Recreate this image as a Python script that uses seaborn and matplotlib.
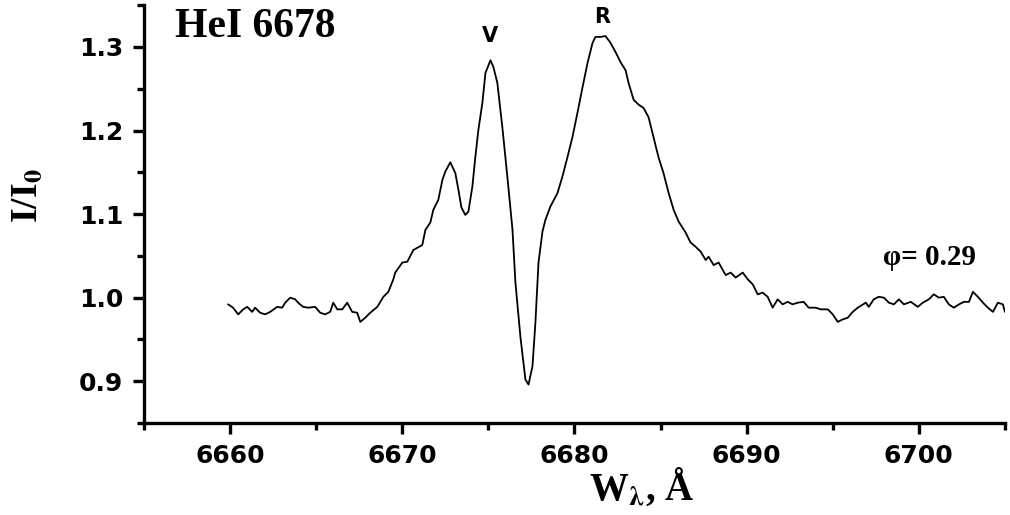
import numpy as np
import pandas as pd
import seaborn as sns
import matplotlib.pyplot as plt

# HeI 6678 profile
wavelength = [
    6659.88, 6660.17, 6660.47, 6660.76, 6660.99, 6661.28, 6661.45, 6661.74, 6662.03, 6662.33,
    6662.73, 6663.02, 6663.20, 6663.49, 6663.78, 6663.95, 6664.24, 6664.53, 6664.94, 6665.23,
    6665.52, 6665.81, 6665.99, 6666.22, 6666.51, 6666.80, 6667.09, 6667.38, 6667.56, 6667.85,
    6668.14, 6668.55, 6668.90, 6669.19, 6669.48, 6669.59, 6670.00, 6670.29, 6670.64, 6671.16,
    6671.34, 6671.63, 6671.80, 6672.09, 6672.33, 6672.50, 6672.79, 6673.08, 6673.26, 6673.43,
    6673.66, 6673.84, 6674.07, 6674.24, 6674.42, 6674.65, 6674.83, 6675.12, 6675.29, 6675.52,
    6675.81, 6676.10, 6676.40, 6676.57, 6676.86, 6677.15, 6677.33, 6677.56, 6677.73, 6677.91,
    6678.14, 6678.31, 6678.60, 6679.01, 6679.30, 6679.59, 6679.88, 6680.17, 6680.47, 6680.76,
    6681.05, 6681.22, 6681.51, 6681.80, 6682.09, 6682.38, 6682.67, 6682.97, 6683.14, 6683.43,
    6683.72, 6684.01, 6684.30, 6684.59, 6684.88, 6685.17, 6685.47, 6685.76, 6686.05, 6686.45,
    6686.74, 6687.03, 6687.33, 6687.62, 6687.79, 6688.08, 6688.37, 6688.78, 6689.07, 6689.36,
    6689.77, 6690.06, 6690.35, 6690.64, 6690.93, 6691.22, 6691.51, 6691.80, 6692.09, 6692.38,
    6692.67, 6692.97, 6693.31, 6693.60, 6694.01, 6694.30, 6694.71, 6695.00, 6695.29, 6695.58,
    6695.87, 6696.16, 6696.45, 6696.92, 6697.09, 6697.38, 6697.67, 6697.97, 6698.26, 6698.55,
    6698.84, 6699.13, 6699.53, 6699.94, 6700.23, 6700.58, 6700.87, 6701.16, 6701.45, 6701.74,
    6702.03, 6702.33, 6702.62, 6702.91, 6703.14, 6703.43, 6703.72, 6704.01, 6704.30, 6704.59,
    6704.88, 6705.00,
]
intensity = [
    0.992, 0.988, 0.980, 0.986, 0.989, 0.983, 0.988, 0.982, 0.980, 0.983,
    0.989, 0.988, 0.994, 1.000, 0.998, 0.994, 0.989, 0.988, 0.989, 0.982,
    0.980, 0.983, 0.994, 0.986, 0.986, 0.994, 0.983, 0.982, 0.971, 0.976,
    0.982, 0.989, 1.001, 1.007, 1.022, 1.030, 1.042, 1.043, 1.057, 1.063,
    1.081, 1.090, 1.105, 1.117, 1.141, 1.151, 1.162, 1.149, 1.129, 1.108,
    1.099, 1.103, 1.133, 1.168, 1.201, 1.233, 1.269, 1.284, 1.276, 1.257,
    1.204, 1.145, 1.081, 1.018, 0.953, 0.902, 0.896, 0.918, 0.970, 1.042,
    1.079, 1.093, 1.109, 1.125, 1.145, 1.168, 1.192, 1.221, 1.252, 1.281,
    1.305, 1.312, 1.312, 1.313, 1.305, 1.294, 1.282, 1.272, 1.257, 1.237,
    1.231, 1.227, 1.216, 1.192, 1.168, 1.149, 1.125, 1.105, 1.091, 1.078,
    1.066, 1.061, 1.055, 1.045, 1.049, 1.039, 1.042, 1.027, 1.030, 1.024,
    1.030, 1.022, 1.016, 1.004, 1.006, 1.001, 0.988, 0.998, 0.992, 0.995,
    0.992, 0.994, 0.995, 0.988, 0.988, 0.986, 0.986, 0.980, 0.971, 0.974,
    0.976, 0.983, 0.988, 0.994, 0.989, 0.998, 1.001, 1.000, 0.994, 0.992,
    0.998, 0.992, 0.995, 0.989, 0.994, 0.998, 1.004, 1.000, 1.001, 0.992,
    0.988, 0.992, 0.995, 0.995, 1.007, 1.001, 0.994, 0.988, 0.983, 0.994,
    0.992, 0.983,
]

x_ticks = [6660, 6670, 6680, 6690, 6700]
y_ticks = [0.9, 1.0, 1.1, 1.2, 1.3]

df = pd.DataFrame({"wl": wavelength, "I": intensity})

sns.set_style("ticks", {"axes.edgecolor": "black", "xtick.color": "black",
                        "ytick.color": "black", "text.color": "black",
                        "axes.labelcolor": "black"})
plt.rcParams["mathtext.fontset"] = "stix"
plt.rcParams["font.family"] = ["DejaVu Sans"]

fig = plt.figure(figsize=(10.1, 5.15), dpi=100)
ax = fig.add_axes([0.1426, 0.1786, 0.8524, 0.8114])

sns.lineplot(data=df, x="wl", y="I", sort=False, color="black", linewidth=1.3, ax=ax)

ax.set_xlim(6655, 6705)
ax.set_ylim(0.85, 1.35)
ax.set_xticks(x_ticks)
ax.set_yticks(y_ticks)
ax.set_xticks(np.arange(6655, 6706, 5), minor=True)
ax.set_yticks(np.arange(0.85, 1.351, 0.05), minor=True)
ax.set_xticklabels([str(v) for v in x_ticks])
ax.set_yticklabels([f"{v:.1f}" for v in y_ticks])

sns.despine(ax=ax)
for s in ["left", "bottom"]:
    ax.spines[s].set_linewidth(2.4)
ax.tick_params(which="major", direction="out", length=8, width=2.4, labelsize=18, pad=7)
ax.tick_params(which="minor", direction="out", length=5, width=2.4)
for lab in ax.get_xticklabels() + ax.get_yticklabels():
    lab.set_fontweight("bold")

serif = ["Liberation Serif", "DejaVu Serif"]
ax.set_xlabel(r"W$_\mathbf{\lambda}$, Å", family=serif, fontweight="bold", fontsize=28,
              va="center")
ax.set_ylabel(r"I/I$_\mathbf{0}$", family=serif, fontweight="bold", fontsize=27,
              va="center")
ax.xaxis.set_label_coords(0.578, -0.155)
ax.yaxis.set_label_coords(-0.136, 0.545)

ax.text(6656.8, 1.324, "HeI 6678", family=serif, fontweight="bold", fontsize=30,
        ha="left", va="center")
ax.text(6675.1, 1.313, "V", fontweight="bold", fontsize=15, ha="center", va="center")
ax.text(6681.6, 1.336, "R", fontweight="bold", fontsize=15, ha="center", va="center")
ax.text(6697.9, 1.048, "φ= 0.29", family=serif, fontweight="bold", fontsize=21,
        ha="left", va="center")

fig.savefig("out.png", dpi=100)
